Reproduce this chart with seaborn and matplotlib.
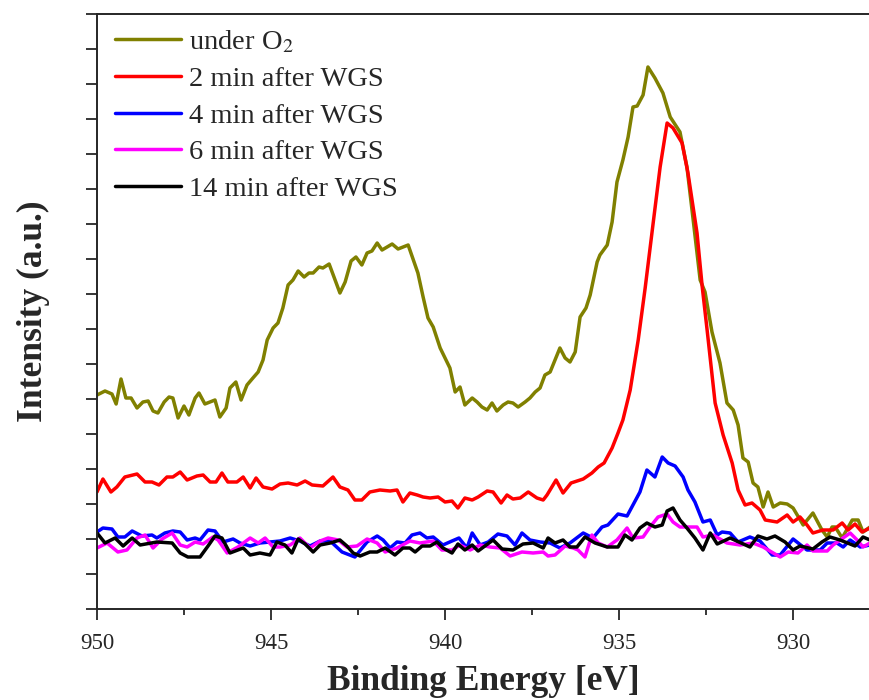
import numpy as np
import pandas as pd
import seaborn as sns
import matplotlib.pyplot as plt
from matplotlib.ticker import MultipleLocator

# Cu 2p3/2 region, intensity in arbitrary units
o2_be = [950.00, 949.77, 949.57, 949.45, 949.31, 949.17, 949.02, 948.85, 948.68, 948.53,
         948.39, 948.25, 948.07, 947.93, 947.82, 947.67, 947.50, 947.36, 947.18, 947.07,
         946.90, 946.61, 946.47, 946.29, 946.18, 946.01, 945.86, 945.69, 945.52, 945.37,
         945.23, 945.11, 944.94, 944.80, 944.66, 944.51, 944.37, 944.22, 944.05, 943.91,
         943.79, 943.62, 943.51, 943.33, 943.16, 943.02, 942.87, 942.70, 942.56, 942.39,
         942.24, 942.10, 941.95, 941.81, 941.52, 941.35, 941.06, 940.78, 940.63, 940.49,
         940.34, 940.14, 940.00, 939.86, 939.71, 939.57, 939.43, 939.22, 939.08, 938.94,
         938.79, 938.65, 938.51, 938.33, 938.19, 938.05, 937.90, 937.70, 937.56, 937.41,
         937.27, 937.13, 936.98, 936.84, 936.70, 936.55, 936.41, 936.26, 936.12, 935.95,
         935.83, 935.63, 935.55, 935.34, 935.20, 935.06, 934.89, 934.74, 934.60, 934.48,
         934.31, 934.17, 933.97, 933.74, 933.53, 933.25, 933.05, 932.87, 932.67, 932.53,
         932.33, 932.10, 931.90, 931.72, 931.58, 931.44, 931.29, 931.15, 931.01, 930.86,
         930.72, 930.57, 930.37, 930.17, 930.00, 929.71, 929.43, 929.17, 929.02, 928.88,
         928.79, 928.59, 928.30, 928.13, 927.99, 927.79]
o2_int = [214, 218, 215, 205, 230, 211, 211, 201, 207, 208,
          198, 196, 207, 212, 211, 191, 203, 194, 211, 216,
          205, 209, 192, 201, 221, 227, 209, 224, 231, 237,
          249, 269, 281, 286, 301, 324, 329, 338, 332, 336,
          336, 342, 341, 345, 329, 316, 327, 348, 352, 344,
          356, 358, 366, 359, 365, 360, 364, 336, 312, 291,
          282, 261, 251, 241, 217, 222, 204, 211, 207, 202,
          199, 206, 198, 204, 207, 206, 202, 207, 211, 217,
          221, 234, 237, 249, 261, 251, 247, 257, 292, 301,
          314, 347, 354, 364, 387, 427, 449, 472, 502, 503,
          514, 542, 531, 516, 492, 477, 442, 389, 329, 317,
          277, 246, 206, 199, 184, 151, 147, 126, 122, 102,
          117, 102, 106, 105, 101, 84, 96, 79, 72, 82,
          82, 71, 89, 89, 77, 82]

wgs2_be = [950.00, 949.83, 949.60, 949.43, 949.20, 948.85, 948.62, 948.42, 948.22, 947.99,
           947.82, 947.61, 947.41, 947.13, 946.95, 946.75, 946.58, 946.41, 946.24, 945.98,
           945.80, 945.60, 945.43, 945.23, 944.97, 944.74, 944.51, 944.25, 944.02, 943.82,
           943.51, 943.22, 943.02, 942.79, 942.59, 942.39, 942.16, 941.87, 941.58, 941.38,
           941.21, 941.01, 940.80, 940.63, 940.43, 940.20, 940.00, 939.80, 939.63, 939.43,
           939.22, 939.05, 938.79, 938.62, 938.39, 938.22, 938.05, 937.84, 937.61, 937.36,
           937.18, 937.07, 936.81, 936.61, 936.38, 936.03, 935.78, 935.60, 935.43, 935.20,
           935.03, 934.89, 934.68, 934.45, 934.25, 934.02, 933.82, 933.62, 933.45, 933.19,
           933.02, 932.76, 932.61, 932.47, 932.24, 932.01, 931.75, 931.58, 931.38, 931.18,
           930.95, 930.80, 930.46, 930.17, 930.00, 929.80, 929.60, 929.43, 929.14, 928.85,
           928.59, 928.42, 928.22, 928.02, 927.79]
wgs2_int = [117, 130, 117, 122, 132, 135, 127, 127, 124, 132,
            132, 137, 129, 133, 134, 127, 127, 136, 127, 127,
            132, 121, 131, 122, 120, 125, 126, 124, 128, 124,
            123, 132, 122, 119, 109, 109, 117, 119, 118, 119,
            107, 116, 114, 112, 111, 112, 107, 108, 101, 111,
            109, 112, 118, 117, 106, 114, 110, 111, 117, 111,
            109, 114, 129, 116, 126, 130, 136, 142, 146, 161,
            176, 189, 219, 269, 321, 386, 442, 486, 481, 466,
            436, 376, 322, 279, 206, 174, 146, 119, 104, 106,
            99, 89, 87, 94, 87, 92, 84, 76, 79, 79,
            86, 79, 85, 77, 81]

wgs4_be = [950.00, 949.83, 949.57, 949.40, 949.20, 948.99, 948.71, 948.42, 948.28, 948.05,
           947.82, 947.61, 947.41, 947.18, 947.04, 946.81, 946.61, 946.38, 946.09, 945.89,
           945.60, 945.32, 945.03, 944.74, 944.45, 944.17, 943.88, 943.59, 943.30, 942.96,
           942.59, 942.24, 941.95, 941.78, 941.58, 941.38, 941.15, 940.95, 940.72, 940.52,
           940.34, 940.06, 939.80, 939.60, 939.37, 939.22, 938.99, 938.76, 938.48, 938.22,
           937.99, 937.79, 937.56, 937.27, 936.98, 936.70, 936.41, 936.03, 935.75, 935.49,
           935.32, 935.03, 934.77, 934.40, 934.20, 933.97, 933.76, 933.59, 933.39, 933.16,
           933.02, 932.82, 932.59, 932.38, 932.18, 932.04, 931.81, 931.58, 931.24, 930.95,
           930.60, 930.37, 930.00, 929.60, 929.22, 929.02, 928.74, 928.56, 928.36, 928.07,
           927.79]
wgs4_int = [77, 81, 80, 72, 72, 78, 73, 74, 71, 76,
            78, 77, 69, 71, 69, 79, 78, 67, 70, 66,
            63, 66, 67, 68, 71, 68, 63, 68, 68, 57,
            52, 67, 73, 69, 61, 67, 66, 74, 76, 71,
            72, 64, 68, 71, 61, 76, 64, 67, 75, 73,
            64, 76, 69, 67, 66, 61, 66, 76, 71, 82,
            84, 95, 93, 117, 139, 132, 152, 146, 143, 132,
            119, 107, 87, 89, 74, 77, 76, 67, 72, 68,
            54, 54, 70, 59, 59, 66, 66, 62, 69, 62,
            64]

wgs6_be = [950.00, 949.71, 949.40, 949.14, 948.85, 948.62, 948.39, 948.13, 947.84, 947.61,
           947.41, 947.18, 946.95, 946.67, 946.52, 946.26, 945.95, 945.60, 945.37, 945.17,
           944.94, 944.74, 944.45, 944.17, 943.88, 943.59, 943.36, 943.07, 942.82, 942.53,
           942.24, 941.95, 941.72, 941.38, 941.01, 940.72, 940.34, 940.09, 939.80, 939.57,
           939.28, 938.99, 938.71, 938.42, 938.13, 937.79, 937.47, 937.18, 937.04, 936.84,
           936.55, 936.32, 936.18, 935.98, 935.78, 935.60, 935.34, 935.06, 934.77, 934.60,
           934.31, 934.11, 933.88, 933.62, 933.45, 933.25, 933.02, 932.76, 932.59, 932.30,
           931.90, 931.52, 931.15, 930.86, 930.57, 930.37, 930.14, 929.86, 929.60, 929.43,
           929.02, 928.85, 928.36, 928.16, 927.99, 927.79]
wgs6_int = [61, 66, 57, 59, 71, 74, 61, 70, 76, 64,
            62, 67, 65, 72, 69, 56, 62, 71, 66, 71,
            62, 62, 64, 71, 61, 68, 71, 69, 62, 63,
            70, 66, 57, 61, 68, 66, 68, 59, 59, 64,
            59, 64, 62, 61, 53, 57, 56, 57, 53, 54,
            63, 61, 59, 52, 74, 66, 62, 69, 81, 71,
            72, 82, 92, 95, 87, 82, 82, 82, 72, 74,
            66, 64, 66, 62, 56, 52, 57, 56, 64, 58,
            58, 64, 76, 69, 62, 66]

wgs14_be = [950.00, 949.77, 949.48, 949.25, 948.99, 948.76, 948.28, 947.84, 947.61, 947.39,
            947.04, 946.81, 946.61, 946.41, 946.18, 945.80, 945.60, 945.32, 945.03, 944.83,
            944.60, 944.40, 944.22, 944.02, 943.79, 943.59, 943.30, 943.02, 942.82, 942.64,
            942.44, 942.16, 941.95, 941.72, 941.44, 941.21, 941.01, 940.86, 940.66, 940.43,
            940.23, 940.06, 939.80, 939.63, 939.43, 939.22, 939.05, 938.62, 938.36, 938.05,
            937.76, 937.47, 937.18, 937.04, 936.84, 936.61, 936.41, 936.21, 935.98, 935.69,
            935.34, 935.03, 934.83, 934.63, 934.40, 934.20, 933.97, 933.76, 933.62, 933.45,
            933.25, 933.05, 932.82, 932.59, 932.38, 932.18, 931.81, 931.24, 931.01, 930.75,
            930.52, 930.23, 930.00, 929.80, 929.43, 929.17, 928.94, 928.65, 928.22, 927.99,
            927.79]
wgs14_int = [76, 66, 71, 63, 71, 64, 67, 66, 56, 52,
             52, 63, 73, 71, 56, 61, 54, 56, 54, 67,
             64, 56, 70, 65, 57, 64, 66, 69, 63, 56,
             53, 57, 57, 61, 54, 61, 61, 57, 63, 63,
             67, 61, 56, 65, 59, 64, 58, 69, 60, 59,
             65, 66, 61, 71, 66, 69, 62, 62, 72, 66,
             62, 62, 74, 69, 81, 86, 82, 84, 98, 101,
             89, 81, 71, 59, 76, 65, 71, 62, 73, 70,
             73, 67, 59, 63, 60, 67, 72, 69, 63, 72,
             69]

labels = ['under O$_2$', '2 min after WGS', '4 min after WGS',
          '6 min after WGS', '14 min after WGS']
colors = ['#808000', '#ff0000', '#0000ff', '#ff00ff', '#000000']

series = [(o2_be, o2_int), (wgs2_be, wgs2_int), (wgs4_be, wgs4_int),
          (wgs6_be, wgs6_int), (wgs14_be, wgs14_int)]
frames = []
for lab, (be, inten) in zip(labels, series):
    frames.append(pd.DataFrame({'BE': be, 'I': inten, 'sample': lab}))
df = pd.concat(frames, ignore_index=True)

sns.set_style('ticks')
plt.rcParams['font.family'] = ['Liberation Serif', 'DejaVu Serif']
plt.rcParams['mathtext.fontset'] = 'stix'

fig = plt.figure(figsize=(8.7, 7), dpi=100)
ax = fig.add_axes([97 / 870, 91 / 700, 773 / 870, 595 / 700])

sns.lineplot(data=df, x='BE', y='I', hue='sample', palette=dict(zip(labels, colors)),
             sort=False, estimator=None, linewidth=2.5, ax=ax)

ax.set_xlim(950, 927.79)
ax.set_ylim(0, 595)
ax.xaxis.set_major_locator(MultipleLocator(5))
ax.xaxis.set_minor_locator(MultipleLocator(2.5))
ax.yaxis.set_major_locator(MultipleLocator(35))
ax.set_yticklabels([])
ax.tick_params(axis='both', which='major', direction='out', length=8, width=1.3,
               labelsize=16.5)
ax.tick_params(axis='x', which='minor', direction='out', length=4.5, width=1.3)
ax.tick_params(axis='x', pad=9)
for s in ['left', 'bottom', 'top']:
    ax.spines[s].set_linewidth(1.4)
ax.spines['right'].set_visible(False)

ax.set_xlabel('Binding Energy [eV]', fontsize=25.5, fontweight='bold', labelpad=8)
ax.set_ylabel('Intensity (a.u.)', fontsize=25.5, fontweight='bold', labelpad=22)

ax.legend(loc='upper left', frameon=False, fontsize=20.5, handlelength=2.3,
          handletextpad=0.3, labelspacing=0.38, borderaxespad=0.3,
          bbox_to_anchor=(-0.002, 1.009))

fig.savefig('out.png', dpi=100)
